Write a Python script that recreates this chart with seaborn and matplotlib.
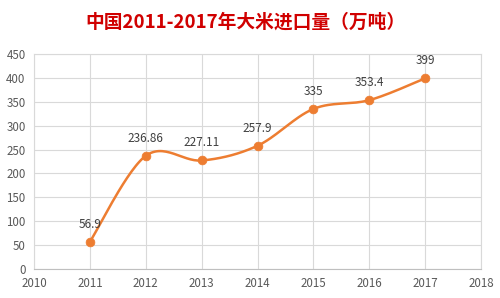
import numpy as np
import pandas as pd
import matplotlib
matplotlib.use("Agg")
import matplotlib.pyplot as plt
import seaborn as sns

years = [2011, 2012, 2013, 2014, 2015, 2016, 2017]
values = [56.9, 236.86, 227.11, 257.9, 335, 353.4, 399]
labels = ["56.9", "236.86", "227.11", "257.9", "335", "353.4", "399"]
xticks = [2010, 2011, 2012, 2013, 2014, 2015, 2016, 2017, 2018]
yticks = [0, 50, 100, 150, 200, 250, 300, 350, 400, 450]
title = "中国2011-2017年大米进口量（万吨）"

sns.set_theme(style="white")
plt.rcParams['font.family'] = ['Noto Sans CJK SC', 'DejaVu Sans']

def smooth_curve(x, y, n=30):
    # Excel-style smoothing: Bezier with control points at 1/6 of neighbour chord
    P = np.column_stack([np.asarray(x, float), np.asarray(y, float)])
    P = np.vstack([P[0], P, P[-1]])
    xs, ys = [], []
    t = np.linspace(0, 1, n, endpoint=False)[:, None]
    for i in range(1, len(P)-2):
        p0, p1, p2, p3 = P[i-1], P[i], P[i+1], P[i+2]
        c1 = p1 + (p2 - p0) / 6
        c2 = p2 - (p3 - p1) / 6
        pts = (1-t)**3*p1 + 3*(1-t)**2*t*c1 + 3*(1-t)*t**2*c2 + t**3*p2
        xs.extend(pts[:, 0]); ys.extend(pts[:, 1])
    xs.append(P[-1, 0]); ys.append(P[-1, 1])
    return np.array(xs), np.array(ys)

sx, sy = smooth_curve(years, values)
smooth = pd.DataFrame({"x": sx, "y": sy})
df = pd.DataFrame({"year": years, "value": values})

fig = plt.figure(figsize=(5, 2.98), dpi=100)
ax = fig.add_axes([0.068, 0.0973, 0.894, 0.7215])
orange = "#ED7D31"
sns.lineplot(data=smooth, x="x", y="y", ax=ax, color=orange, linewidth=1.8, sort=False)
sns.scatterplot(data=df, x="year", y="value", ax=ax, color=orange, s=40, edgecolor=orange, zorder=5)

for xv, yv, lab in zip(years, values, labels):
    ax.annotate(lab, (xv, yv), xytext=(0, 8), textcoords="offset points",
                ha="center", va="bottom", fontsize=8.5, color="#404040")

ax.set_xlim(2010, 2018)
ax.set_ylim(0, 450)
ax.set_xticks(xticks)
ax.set_yticks(yticks)
ax.set_xticklabels([str(v) for v in xticks])
ax.set_yticklabels([str(v) for v in yticks])
ax.tick_params(axis="both", labelsize=8.3, labelcolor="#595959", length=0, pad=6)
ax.grid(True, color="#D9D9D9", linewidth=0.8)
ax.set_axisbelow(True)
for s in ax.spines.values():
    s.set_color("#D9D9D9"); s.set_linewidth(0.8)
ax.spines["bottom"].set_color("#BFBFBF")
ax.set_xlabel(""); ax.set_ylabel("")

fig.text(0.49, 0.925, title, ha="center", va="center", fontsize=13.5,
         fontweight="bold", color="#D00000")

fig.savefig("out.png", dpi=100)
